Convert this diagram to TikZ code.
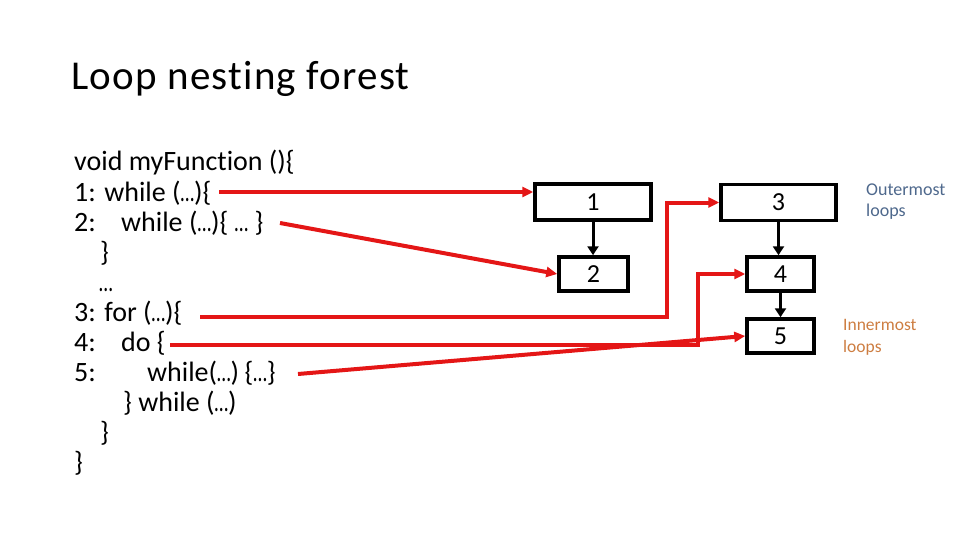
\documentclass[tikz,border=0pt]{standalone}
\usepackage{fontspec}
\usepackage{graphicx}
\setmainfont{Carlito}[Ligatures=NoCommon]
\usetikzlibrary{arrows.meta}
\definecolor{lred}{RGB}{228,22,22}
\definecolor{outc}{RGB}{78,104,140}
\definecolor{innc}{RGB}{205,125,65}
\newcommand\myel{\scalebox{0.7}[1]{…}}
\begin{document}
\begin{tikzpicture}[x=1pt,y=-1pt,
  code/.style={anchor=base west,inner sep=0pt,font=\fontsize{28}{30}\selectfont},
  box/.style={draw=black,line width=3.5pt,inner sep=0pt,font=\fontsize{26}{28}\selectfont},
  redl/.style={draw=lred,line width=4pt,-{Triangle[length=11pt,width=10pt]}},
  blk/.style={draw=black,line width=3pt,-{Triangle[length=9pt,width=11pt]}},
  lab/.style={anchor=base west,inner sep=0pt,align=left}]
\useasboundingbox (0,0) rectangle (960,540);
\node[anchor=base west,inner sep=0pt,font=\fontsize{41}{43}\selectfont\addfontfeature{LetterSpace=3}] (title) at (71,90) {Loop nesting forest};
% code lines
\node[code] (c0) at (74,171) {void myFunction ()\{};
\node[code] (c1) at (74,201) {1: while (\myel)\{};
\node[code] (c2n) at (74,231) {2:};
\node[code] (c2) at (121,231) {while (\myel)\{ \myel\ \}};
\node[code] (c3) at (100,261) {\}};
\node[code] (c4) at (99,291) {\myel};
\node[code] (c5) at (74,321) {3: for (\myel)\{};
\node[code] (c6n) at (74,351) {4:};
\node[code] (c6) at (121,351) {do \{};
\node[code] (c7n) at (74,381) {5:};
\node[code] (c7) at (147,381) {while(\myel)\kern-1pt\ \{\myel\}};
\node[code] (c8) at (123,411) {\} while (\myel)};
\node[code] (c9) at (100,441) {\}};
\node[code] (c10) at (74,471) {\}};
% boxes
\node[box,minimum width=116,minimum height=36] (b1) at (593,202) {1};
\node[box,minimum width=69,minimum height=34] (b2) at (593.5,274) {2};
\node[box,minimum width=115,minimum height=36] (b3) at (778.5,202.5) {3};
\node[box,minimum width=67,minimum height=34] (b4) at (780.5,274) {4};
\node[box,minimum width=67,minimum height=34] (b5) at (780.5,336) {5};
% labels
\node[lab,text=outc,font=\fontsize{18}{21}\selectfont] (out) at (866,216) {Outermost\\loops};
\node[lab,text=innc,font=\fontsize{17.5}{22}\selectfont] (inn) at (843,352) {Innermost\\loops};
% black arrows
\draw[blk] (b1.south) -- (b1.south |- b2.north);
\draw[blk] (b3.south) -- (b3.south |- b4.north);
\draw[blk] (b4.south) -- (b4.south |- b5.north);
% red connectors
\coordinate (s1) at (219,192);
\coordinate (s2) at (280,223);
\coordinate (s3) at (200,317);
\coordinate (k3) at (667,202.5);
\coordinate (s4) at (170,345);
\coordinate (k4) at (698,274);
\coordinate (s5) at (298,374);
\draw[redl] (s1) -- ([yshift=10pt]b1.west);
\draw[redl] (s2) -- (b2.west);
\draw[redl] (s3) -| (k3) -- (b3.west);
\draw[redl] (s4) -| (k4) -- (b4.west);
\draw[redl] (s5) -- (b5.west);
\end{tikzpicture}
\end{document}
